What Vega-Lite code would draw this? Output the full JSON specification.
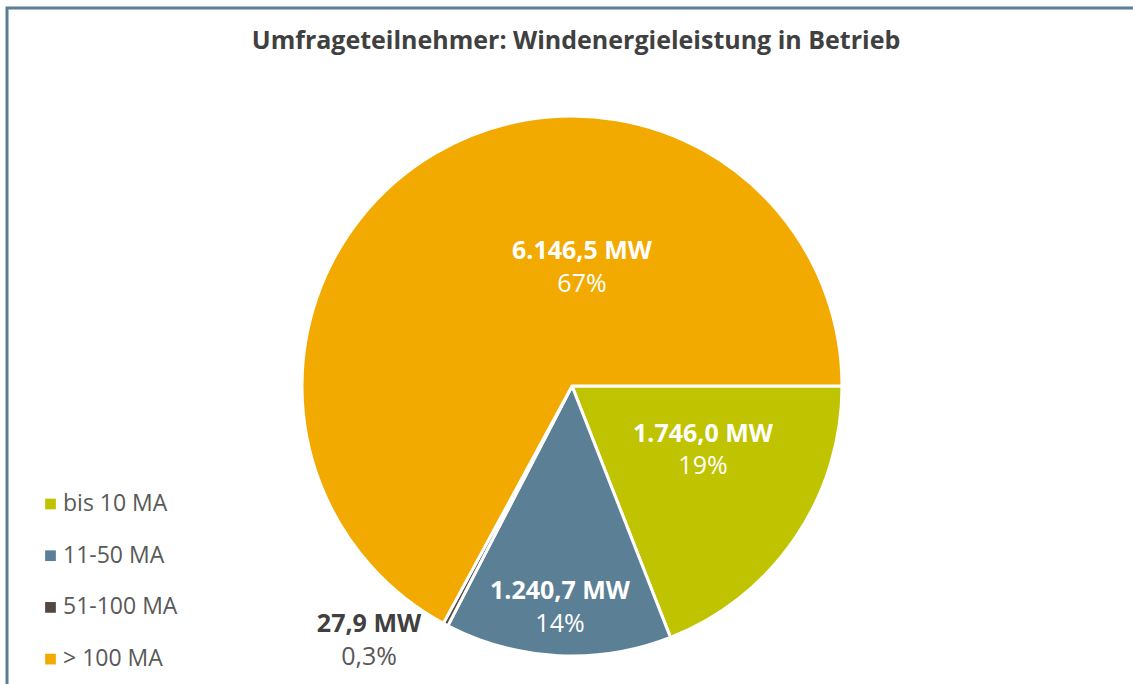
{
  "$schema": "https://vega.github.io/schema/vega-lite/v6.json",
  "width": 1130,
  "height": 756,
  "autosize": {"type": "none"},
  "padding": {"left": 7, "top": 8, "right": -4, "bottom": -80},
  "background": "white",
  "title": {
    "text": "Umfrageteilnehmer: Windenergieleistung in Betrieb",
    "font": "Open Sans",
    "fontSize": 25,
    "fontWeight": "bold",
    "color": "#404040",
    "anchor": "middle",
    "offset": -67,
    "baseline": "alphabetic",
    "dx": 4
  },
  "data": {
    "values": [
      {"rank": 1, "cat": "bis 10 MA", "mw": 1746.0, "label": "1.746,0 MW", "pct": "19%"},
      {"rank": 2, "cat": "11-50 MA", "mw": 1240.7, "label": "1.240,7 MW", "pct": "14%"},
      {"rank": 3, "cat": "51-100 MA", "mw": 27.9, "label": "27,9 MW", "pct": "0,3%"},
      {"rank": 4, "cat": "> 100 MA", "mw": 6146.5, "label": "6.146,5 MW", "pct": "67%"}
    ]
  },
  "transform": [{"stack": "mw", "groupby": [], "sort": [{"field": "rank", "order": "ascending"}], "as": ["t0", "t1"]}],
  "config": {
    "view": {"stroke": null},
    "font": "Open Sans"
  },
  "layer": [
    {
      "data": {"values": [{}]},
      "mark": {"type": "rect", "fill": null, "stroke": "#5B7F95", "strokeWidth": 3},
      "encoding": {}
    },
    {
      "mark": {"type": "arc", "radius": 270, "stroke": "white", "strokeWidth": 3},
      "encoding": {
        "theta": {
          "field": "t1",
          "type": "quantitative",
          "stack": null,
          "scale": {"range": [1.5708, 7.854], "nice": false, "zero": true}
        },
        "theta2": {"field": "t0"},
        "color": {
          "field": "cat",
          "type": "nominal",
          "scale": {
            "domain": ["bis 10 MA", "11-50 MA", "51-100 MA", "> 100 MA"],
            "range": ["#BFC300", "#5B7F95", "#54473F", "#F2AA00"]
          },
          "legend": {
            "orient": "none",
            "legendX": 32,
            "legendY": 484.5,
            "title": null,
            "symbolType": "square",
            "symbolSize": 115,
            "symbolStrokeWidth": 0,
            "labelFont": "Open Sans",
            "labelFontSize": 23,
            "labelColor": "#595959",
            "labelOffset": 1,
            "rowPadding": 27.7,
            "padding": 0
          }
        }
      }
    },
    {
      "transform": [{"filter": "datum.rank === 4"}],
      "mark": {"type": "text", "radius": 118.9, "thetaOffset": 2.7288, "dy": -16.5, "fontSize": 25, "fontWeight": "bold", "fill": "white", "font": "Open Sans"},
      "encoding": {"theta": {"field": "t0", "type": "quantitative", "stack": null}, "text": {"field": "label"}}
    },
    {
      "transform": [{"filter": "datum.rank === 4"}],
      "mark": {"type": "text", "radius": 118.9, "thetaOffset": 2.7288, "dy": 16.5, "fontSize": 25, "fill": "white", "font": "Open Sans"},
      "encoding": {"theta": {"field": "t0", "type": "quantitative", "stack": null}, "text": {"field": "pct"}}
    },
    {
      "transform": [{"filter": "datum.rank === 1"}],
      "mark": {"type": "text", "radius": 145.8, "thetaOffset": 0.4545, "dy": -16, "fontSize": 25, "fontWeight": "bold", "fill": "white", "font": "Open Sans"},
      "encoding": {"theta": {"field": "t0", "type": "quantitative", "stack": null}, "text": {"field": "label"}}
    },
    {
      "transform": [{"filter": "datum.rank === 1"}],
      "mark": {"type": "text", "radius": 145.8, "thetaOffset": 0.4545, "dy": 16, "fontSize": 25, "fill": "white", "font": "Open Sans"},
      "encoding": {"theta": {"field": "t0", "type": "quantitative", "stack": null}, "text": {"field": "pct"}}
    },
    {
      "transform": [{"filter": "datum.rank === 2"}],
      "mark": {"type": "text", "radius": 222.3, "thetaOffset": 0.4273, "dy": -16.5, "fontSize": 25, "fontWeight": "bold", "fill": "white", "font": "Open Sans"},
      "encoding": {"theta": {"field": "t0", "type": "quantitative", "stack": null}, "text": {"field": "label"}}
    },
    {
      "transform": [{"filter": "datum.rank === 2"}],
      "mark": {"type": "text", "radius": 222.3, "thetaOffset": 0.4273, "dy": 16.5, "fontSize": 25, "fill": "white", "font": "Open Sans"},
      "encoding": {"theta": {"field": "t0", "type": "quantitative", "stack": null}, "text": {"field": "pct"}}
    },
    {
      "transform": [{"filter": "datum.rank === 3"}],
      "mark": {"type": "text", "radius": 325.2, "thetaOffset": 0.1965, "dy": -16.5, "fontSize": 25, "fontWeight": "bold", "fill": "#404040", "font": "Open Sans"},
      "encoding": {"theta": {"field": "t0", "type": "quantitative", "stack": null}, "text": {"field": "label"}}
    },
    {
      "transform": [{"filter": "datum.rank === 3"}],
      "mark": {"type": "text", "radius": 325.2, "thetaOffset": 0.1965, "dy": 16.5, "fontSize": 25, "fill": "#595959", "font": "Open Sans"},
      "encoding": {"theta": {"field": "t0", "type": "quantitative", "stack": null}, "text": {"field": "pct"}}
    }
  ]
}
